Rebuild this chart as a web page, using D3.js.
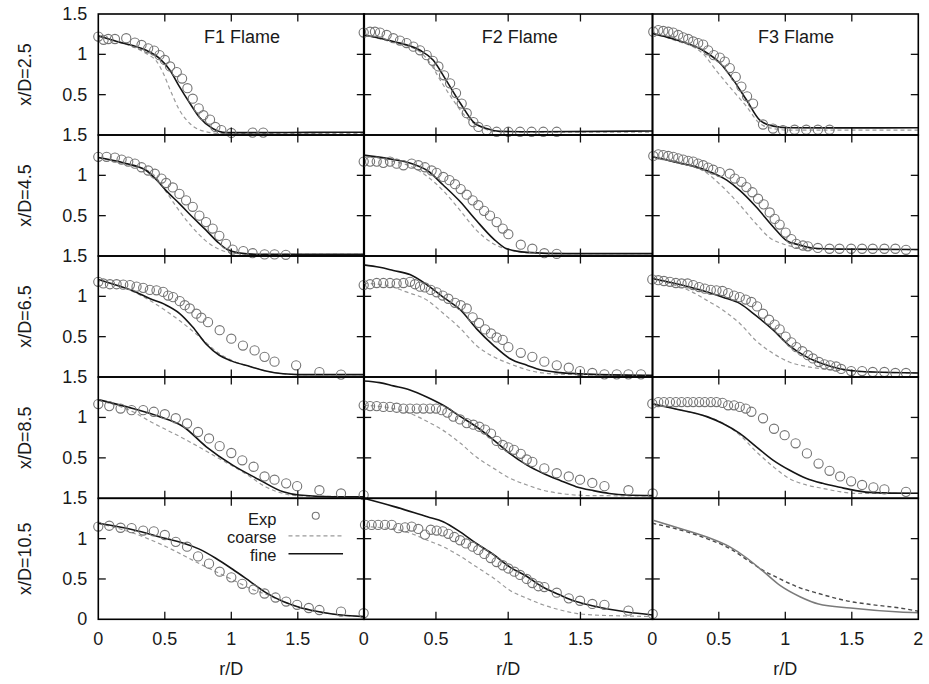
<!DOCTYPE html>
<html>
<head>
<meta charset="utf-8">
<script src="https://cdn.jsdelivr.net/npm/d3@7"></script>
<style>
  html, body { margin: 0; padding: 0; background: #fff; }
  svg text { font-family: "Liberation Sans", Arial, Helvetica, sans-serif; fill: #1a1a1a; }
</style>
</head>
<body>
<svg id="chart" width="929" height="684"></svg>
<script>
// ---- categories ----
const flames = ["F1", "F2", "F3"];
const stations = [2.5, 4.5, 6.5, 8.5, 10.5];
const xTicks = [0, 0.5, 1, 1.5, 2];
const yTicks = [0, 0.5, 1, 1.5];
const xTickLabels = ["0", "0.5", "1", "1.5", "2"];
const yTickLabels = ["0", "0.5", "1", "1.5"];
const keyNames = ["Exp", "coarse", "fine"];

// ---- F1 flame ----
const f1_25_exp = [[0,1.22],[0.04,1.18],[0.075,1.19],[0.125,1.19],[0.21,1.2],[0.275,1.145],[0.325,1.116],[0.375,1.075],[0.42,1.046],[0.46,0.99],[0.5,0.93],[0.54,0.85],[0.59,0.78],[0.63,0.7],[0.67,0.58],[0.71,0.45],[0.755,0.33],[0.79,0.245],[0.84,0.19],[0.88,0.1],[0.925,0.06],[1.0,0.025],[1.16,0.03],[1.24,0.03]];
const f1_25_fine = [[0,1.23],[0.14,1.16],[0.36,1.05],[0.46,0.95],[0.54,0.8],[0.61,0.6],[0.69,0.39],[0.76,0.22],[0.86,0.08],[0.96,0.03],[1.2,0.03],[1.6,0.032],[2,0.035]];
const f1_25_coarse = [[0,1.22],[0.2,1.13],[0.36,1.01],[0.44,0.91],[0.49,0.76],[0.54,0.56],[0.61,0.31],[0.69,0.14],[0.81,0.04],[0.91,0.02],[1.4,0.02],[2,0.02]];

const f1_45_exp = [[0,1.23],[0.0625,1.23],[0.125,1.22],[0.175,1.195],[0.225,1.17],[0.275,1.145],[0.325,1.1],[0.375,1.06],[0.425,1.02],[0.475,0.96],[0.51,0.905],[0.56,0.85],[0.61,0.77],[0.66,0.69],[0.71,0.61],[0.76,0.5],[0.81,0.42],[0.86,0.34],[0.91,0.25],[0.96,0.15],[1.01,0.08],[1.09,0.06],[1.16,0.035],[1.25,0.02],[1.325,0.02],[1.41,0.015]];
const f1_45_fine = [[0,1.22],[0.2,1.15],[0.36,1.06],[0.44,0.94],[0.51,0.81],[0.61,0.65],[0.71,0.48],[0.81,0.32],[0.9,0.17],[0.97,0.08],[1.05,0.04],[1.2,0.02],[2,0.02]];
const f1_45_coarse = [[0,1.22],[0.2,1.14],[0.4,1.03],[0.5,0.82],[0.6,0.58],[0.7,0.37],[0.8,0.2],[0.9,0.09],[1.0,0.04],[1.2,0.02],[2,0.02]];

const f1_65_exp = [[0,1.18],[0.0375,1.16],[0.0875,1.15],[0.1375,1.15],[0.1875,1.145],[0.2375,1.14],[0.2875,1.12],[0.3375,1.105],[0.3875,1.08],[0.4375,1.075],[0.4875,1.055],[0.525,1.01],[0.5625,0.99],[0.6125,0.94],[0.65,0.89],[0.6875,0.85],[0.7375,0.785],[0.775,0.735],[0.825,0.68],[0.9125,0.58],[1.0,0.475],[1.0875,0.39],[1.175,0.33],[1.25,0.25],[1.325,0.19],[1.4875,0.145],[1.6625,0.06],[1.825,0.03]];
const f1_65_fine = [[0,1.21],[0.15,1.13],[0.26,1.07],[0.39,0.97],[0.5,0.9],[0.61,0.79],[0.71,0.62],[0.81,0.41],[0.91,0.27],[1.0,0.2],[1.14,0.13],[1.26,0.075],[1.39,0.04],[1.51,0.03],[2,0.03]];
const f1_65_coarse = [[0,1.21],[0.15,1.13],[0.31,1.02],[0.5,0.83],[0.61,0.7],[0.76,0.5],[0.91,0.29],[1.01,0.2],[1.14,0.13],[1.26,0.075],[1.39,0.04],[1.51,0.03],[2,0.03]];

const f1_85_exp = [[0,1.165],[0.0825,1.14],[0.1675,1.11],[0.25,1.09],[0.3375,1.09],[0.4175,1.07],[0.5,1.04],[0.5825,0.99],[0.6675,0.925],[0.75,0.82],[0.8325,0.74],[0.9125,0.645],[1.0,0.56],[1.0825,0.47],[1.1675,0.39],[1.25,0.27],[1.325,0.23],[1.4125,0.185],[1.495,0.15],[1.6625,0.1],[1.825,0.06],[1.995,0.04]];
const f1_85_fine = [[0,1.22],[0.26,1.11],[0.46,1.01],[0.64,0.885],[0.81,0.64],[1.01,0.41],[1.21,0.23],[1.39,0.08],[1.51,0.04],[1.76,0.02],[2,0.02]];
const f1_85_coarse = [[0,1.21],[0.26,1.07],[0.39,0.95],[0.64,0.74],[0.89,0.51],[1.14,0.27],[1.26,0.14],[1.39,0.06],[1.51,0.03],[2,0.02]];

const f1_105_exp = [[0,1.15],[0.0825,1.16],[0.1675,1.135],[0.25,1.13],[0.3375,1.1],[0.4175,1.09],[0.5,1.045],[0.5825,0.96],[0.6675,0.9],[0.75,0.78],[0.8325,0.69],[0.9125,0.59],[1.0,0.52],[1.0825,0.44],[1.1675,0.37],[1.25,0.32],[1.3325,0.27],[1.4125,0.22],[1.495,0.18],[1.5825,0.14],[1.6625,0.115],[1.825,0.095],[1.995,0.075]];
const f1_105_fine = [[0,1.19],[0.26,1.11],[0.51,1.0],[0.63,0.95],[0.76,0.87],[0.88,0.76],[1.01,0.62],[1.14,0.47],[1.26,0.33],[1.39,0.22],[1.51,0.15],[1.64,0.1],[1.76,0.066],[2,0.033]];
const f1_105_coarse = [[0,1.19],[0.26,1.07],[0.51,0.9],[0.76,0.69],[1.01,0.49],[1.16,0.37],[1.26,0.31],[1.39,0.22],[1.51,0.15],[1.64,0.1],[1.76,0.066],[2,0.033]];

// ---- F2 flame ----
const f2_25_exp = [[0,1.27],[0.044,1.28],[0.078,1.28],[0.113,1.27],[0.159,1.24],[0.205,1.2],[0.251,1.17],[0.297,1.14],[0.344,1.095],[0.39,1.05],[0.436,0.99],[0.478,0.92],[0.517,0.85],[0.556,0.74],[0.598,0.64],[0.639,0.52],[0.678,0.39],[0.713,0.27],[0.759,0.16],[0.794,0.1],[0.851,0.06],[0.92,0.04],[1.001,0.04],[1.082,0.04],[1.162,0.04],[1.243,0.04],[1.336,0.04]];
const f2_25_fine = [[0,1.24],[0.205,1.16],[0.39,1.05],[0.48,0.93],[0.57,0.68],[0.67,0.39],[0.76,0.16],[0.85,0.08],[0.94,0.045],[1.2,0.04],[2,0.05]];
const f2_25_coarse = [[0,1.24],[0.2,1.15],[0.39,1.03],[0.46,0.89],[0.53,0.68],[0.62,0.43],[0.71,0.22],[0.81,0.1],[0.9,0.045],[1.2,0.035],[2,0.035]];

const f2_45_exp = [[0,1.17],[0.044,1.17],[0.09,1.17],[0.136,1.155],[0.182,1.17],[0.228,1.145],[0.275,1.125],[0.332,1.145],[0.378,1.125],[0.424,1.1],[0.47,1.06],[0.505,1.03],[0.551,0.98],[0.593,0.94],[0.632,0.89],[0.671,0.83],[0.713,0.76],[0.754,0.69],[0.793,0.63],[0.833,0.56],[0.874,0.5],[0.92,0.42],[0.962,0.34],[1.001,0.27],[1.087,0.14],[1.167,0.09],[1.25,0.035],[1.336,0.027]];
const f2_45_fine = [[0,1.25],[0.16,1.21],[0.34,1.14],[0.44,1.06],[0.55,0.88],[0.67,0.67],[0.78,0.44],[0.9,0.21],[0.99,0.09],[1.13,0.045],[1.4,0.03],[2,0.03]];
const f2_45_coarse = [[0,1.25],[0.16,1.19],[0.34,1.1],[0.55,0.81],[0.67,0.56],[0.78,0.32],[0.9,0.15],[1.0,0.08],[1.1,0.045],[1.3,0.03],[2,0.03]];

const f2_65_exp = [[0,1.14],[0.044,1.15],[0.09,1.165],[0.136,1.165],[0.182,1.165],[0.228,1.16],[0.275,1.165],[0.321,1.18],[0.355,1.15],[0.39,1.12],[0.424,1.11],[0.464,1.08],[0.505,1.05],[0.547,1.01],[0.586,0.97],[0.632,0.92],[0.671,0.89],[0.713,0.85],[0.754,0.74],[0.798,0.67],[0.84,0.59],[0.881,0.54],[0.92,0.49],[0.962,0.46],[1.001,0.37],[1.087,0.3],[1.167,0.25],[1.25,0.19],[1.336,0.145],[1.419,0.115],[1.497,0.074],[1.582,0.05],[1.666,0.033],[1.751,0.033],[1.832,0.033],[1.919,0.033]];
const f2_65_fine = [[0,1.39],[0.11,1.36],[0.205,1.32],[0.32,1.27],[0.44,1.14],[0.55,0.99],[0.67,0.83],[0.78,0.6],[0.9,0.39],[1.01,0.23],[1.13,0.145],[1.24,0.083],[1.36,0.054],[1.59,0.033],[2,0.02]];
const f2_65_coarse = [[0,1.16],[0.1,1.15],[0.2,1.12],[0.27,1.07],[0.44,0.95],[0.55,0.79],[0.67,0.6],[0.78,0.39],[0.9,0.25],[1.01,0.165],[1.13,0.09],[1.24,0.05],[1.4,0.033],[2,0.02]];

const f2_85_exp = [[0,1.15],[0.044,1.14],[0.09,1.14],[0.136,1.13],[0.182,1.13],[0.228,1.12],[0.275,1.11],[0.321,1.11],[0.367,1.11],[0.413,1.11],[0.459,1.11],[0.5,1.11],[0.54,1.09],[0.579,1.06],[0.62,1.01],[0.667,0.975],[0.713,0.93],[0.759,0.91],[0.8,0.885],[0.84,0.85],[0.881,0.8],[0.92,0.71],[0.962,0.66],[1.001,0.63],[1.04,0.6],[1.087,0.55],[1.128,0.48],[1.167,0.45],[1.25,0.37],[1.336,0.31],[1.419,0.27],[1.497,0.23],[1.582,0.19],[1.666,0.15],[1.832,0.1],[2.0,0.06]];
const f2_85_fine = [[0,1.45],[0.11,1.43],[0.205,1.39],[0.32,1.34],[0.44,1.25],[0.55,1.15],[0.67,1.01],[0.78,0.885],[0.9,0.72],[1.01,0.555],[1.13,0.41],[1.24,0.31],[1.36,0.22],[1.47,0.144],[1.59,0.095],[1.7,0.06],[1.82,0.04],[2,0.033]];
const f2_85_coarse = [[0,1.15],[0.205,1.11],[0.32,1.05],[0.44,0.95],[0.55,0.84],[0.67,0.68],[0.78,0.51],[0.9,0.37],[1.01,0.25],[1.13,0.165],[1.24,0.1],[1.36,0.06],[1.47,0.04],[1.59,0.033],[2,0.03]];

const f2_105_exp = [[0.009,1.17],[0.055,1.17],[0.1,1.17],[0.147,1.17],[0.194,1.17],[0.24,1.13],[0.286,1.14],[0.332,1.15],[0.378,1.12],[0.424,1.05],[0.464,1.11],[0.505,1.1],[0.547,1.09],[0.586,1.06],[0.627,1.02],[0.667,0.98],[0.708,0.94],[0.754,0.9],[0.793,0.86],[0.835,0.81],[0.879,0.76],[0.92,0.71],[0.962,0.67],[1.001,0.63],[1.043,0.59],[1.082,0.55],[1.128,0.5],[1.167,0.45],[1.209,0.41],[1.25,0.4],[1.336,0.33],[1.419,0.26],[1.497,0.23],[1.582,0.19],[1.666,0.18],[1.832,0.107],[2.0,0.066]];
const f2_105_fine = [[0,1.5],[0.205,1.4],[0.44,1.27],[0.55,1.21],[0.67,1.08],[0.78,0.94],[0.9,0.8],[1.01,0.65],[1.13,0.53],[1.24,0.4],[1.36,0.3],[1.47,0.22],[1.59,0.165],[1.7,0.124],[1.82,0.09],[2,0.054]];
const f2_105_coarse = [[0,1.15],[0.205,1.12],[0.32,1.07],[0.44,0.98],[0.55,0.9],[0.67,0.78],[0.78,0.65],[0.9,0.51],[1.01,0.36],[1.13,0.26],[1.24,0.18],[1.36,0.116],[1.47,0.074],[1.59,0.054],[1.82,0.041],[2,0.033]];

// ---- F3 flame ----
const f3_25_exp = [[0.0075,1.28],[0.045,1.3],[0.0825,1.29],[0.12,1.28],[0.1575,1.27],[0.195,1.24],[0.2325,1.21],[0.27,1.19],[0.3075,1.16],[0.345,1.14],[0.3825,1.12],[0.42,1.05],[0.4625,0.99],[0.5075,0.96],[0.545,0.91],[0.5825,0.83],[0.6275,0.72],[0.67,0.6],[0.7125,0.48],[0.7575,0.39],[0.8325,0.13],[0.9075,0.08],[0.9825,0.06],[1.07,0.066],[1.1575,0.066],[1.245,0.066],[1.3325,0.066]];
const f3_25_fine = [[0,1.26],[0.16,1.19],[0.38,1.05],[0.51,0.89],[0.61,0.68],[0.71,0.43],[0.81,0.18],[0.91,0.11],[1.03,0.09],[1.5,0.088],[2,0.09]];
const f3_25_coarse = [[0,1.26],[0.16,1.18],[0.38,1.01],[0.48,0.8],[0.58,0.6],[0.71,0.35],[0.81,0.14],[0.91,0.08],[1.03,0.06],[2,0.06]];

const f3_45_exp = [[0.0075,1.24],[0.045,1.26],[0.0825,1.25],[0.12,1.24],[0.1575,1.23],[0.195,1.21],[0.2325,1.195],[0.27,1.18],[0.3075,1.17],[0.345,1.145],[0.3825,1.125],[0.42,1.095],[0.4575,1.07],[0.5075,1.04],[0.5825,1.02],[0.62,0.96],[0.67,0.92],[0.7075,0.855],[0.7525,0.79],[0.795,0.71],[0.8375,0.64],[0.8825,0.54],[0.92,0.46],[0.9575,0.39],[1.0025,0.29],[1.045,0.21],[1.0825,0.15],[1.1325,0.13],[1.17,0.12],[1.245,0.1],[1.3325,0.09],[1.4075,0.09],[1.495,0.09],[1.5775,0.09],[1.6575,0.09],[1.745,0.09],[1.8275,0.09],[1.9075,0.077]];
const f3_45_fine = [[0,1.23],[0.16,1.17],[0.41,1.06],[0.56,0.94],[0.66,0.81],[0.78,0.61],[0.91,0.36],[1.01,0.19],[1.1,0.14],[1.2,0.1],[1.4,0.085],[2,0.08]];
const f3_45_coarse = [[0,1.23],[0.2,1.15],[0.38,1.06],[0.53,0.855],[0.66,0.63],[0.78,0.4],[0.88,0.23],[1.0,0.14],[1.1,0.1],[1.2,0.085],[2,0.08]];

const f3_65_exp = [[0,1.21],[0.045,1.2],[0.0875,1.19],[0.1325,1.18],[0.1775,1.165],[0.22,1.16],[0.265,1.16],[0.3075,1.14],[0.3525,1.115],[0.395,1.095],[0.44,1.08],[0.4825,1.075],[0.5275,1.066],[0.57,1.04],[0.615,1.01],[0.6575,0.99],[0.7025,0.96],[0.745,0.93],[0.7875,0.875],[0.8325,0.785],[0.8775,0.71],[0.92,0.65],[0.9575,0.59],[1.0025,0.5],[1.045,0.43],[1.0825,0.37],[1.1275,0.32],[1.17,0.27],[1.2075,0.23],[1.2525,0.186],[1.295,0.157],[1.3375,0.145],[1.3825,0.13],[1.42,0.1],[1.495,0.074],[1.5775,0.074],[1.6575,0.062],[1.745,0.062],[1.8275,0.05],[1.9075,0.05]];
const f3_65_fine = [[0,1.22],[0.28,1.115],[0.53,0.99],[0.66,0.91],[0.78,0.76],[0.91,0.58],[1.03,0.39],[1.16,0.25],[1.28,0.165],[1.41,0.103],[1.53,0.074],[1.66,0.062],[2,0.05]];
const f3_65_coarse = [[0,1.22],[0.15,1.15],[0.28,1.07],[0.41,0.95],[0.53,0.83],[0.66,0.66],[0.78,0.45],[0.91,0.29],[1.03,0.186],[1.16,0.13],[1.28,0.1],[1.41,0.083],[1.6,0.065],[2,0.05]];

const f3_85_exp = [[0,1.17],[0.045,1.19],[0.0875,1.19],[0.1325,1.19],[0.1775,1.19],[0.22,1.19],[0.265,1.19],[0.3075,1.19],[0.3525,1.19],[0.395,1.19],[0.44,1.19],[0.4825,1.19],[0.5275,1.18],[0.57,1.15],[0.615,1.15],[0.6575,1.13],[0.7025,1.11],[0.745,1.07],[0.8325,0.99],[0.915,0.86],[0.995,0.78],[1.0775,0.68],[1.1625,0.555],[1.25,0.43],[1.3325,0.34],[1.4125,0.27],[1.495,0.21],[1.5775,0.165],[1.6625,0.136],[1.745,0.11],[1.9075,0.08]];
const f3_85_fine = [[0,1.17],[0.16,1.11],[0.41,1.01],[0.53,0.925],[0.66,0.8],[0.78,0.64],[0.91,0.47],[1.03,0.35],[1.16,0.245],[1.28,0.185],[1.41,0.136],[1.53,0.095],[1.66,0.07],[2,0.062]];
const f3_85_coarse = [[0,1.17],[0.16,1.11],[0.41,1.01],[0.53,0.93],[0.66,0.78],[0.78,0.58],[0.91,0.39],[1.03,0.245],[1.16,0.165],[1.28,0.123],[1.41,0.082],[1.53,0.062],[2,0.06]];

const f3_105_exp = [];
const f3_105_fine = [[0,1.23],[0.16,1.15],[0.41,1.02],[0.58,0.9],[0.71,0.76],[0.83,0.6],[0.96,0.42],[1.11,0.28],[1.25,0.19],[1.49,0.14],[1.86,0.09],[2,0.08]];
const f3_105_coarse = [[0,1.19],[0.16,1.13],[0.41,1.0],[0.58,0.88],[0.71,0.74],[0.83,0.61],[0.96,0.5],[1.11,0.39],[1.25,0.32],[1.49,0.22],[1.66,0.18],[1.86,0.14],[2,0.1]];

// lookup table: [flame][station index] -> [exp, coarse, fine]
const panels = [
  [[f1_25_exp, f1_25_coarse, f1_25_fine], [f1_45_exp, f1_45_coarse, f1_45_fine], [f1_65_exp, f1_65_coarse, f1_65_fine], [f1_85_exp, f1_85_coarse, f1_85_fine], [f1_105_exp, f1_105_coarse, f1_105_fine]],
  [[f2_25_exp, f2_25_coarse, f2_25_fine], [f2_45_exp, f2_45_coarse, f2_45_fine], [f2_65_exp, f2_65_coarse, f2_65_fine], [f2_85_exp, f2_85_coarse, f2_85_fine], [f2_105_exp, f2_105_coarse, f2_105_fine]],
  [[f3_25_exp, f3_25_coarse, f3_25_fine], [f3_45_exp, f3_45_coarse, f3_45_fine], [f3_65_exp, f3_65_coarse, f3_65_fine], [f3_85_exp, f3_85_coarse, f3_85_fine], [f3_105_exp, f3_105_coarse, f3_105_fine]]
];

// ---- layout ----
const colEdges = [[98.3, 364.3], [363.7, 652.7], [652.3, 918.3]];
const rowEdges = [14, 135, 256, 377, 498.3, 619.3];
const tickLen = 7.5;

const styles = {
  exp:    { stroke: "#747474", width: 1.1, r: 4.6 },
  coarse: { stroke: "#9a9a9a", width: 1.2, dash: "4,3" },
  fine:   { stroke: "#151515", width: 1.6 }
};
// panel without measurements uses a lighter solid line and darker dashes
const stylesNoExp = {
  coarse: { stroke: "#4a4a4a", width: 1.4, dash: "4,3" },
  fine:   { stroke: "#7a7a7a", width: 1.5 }
};

const svg = d3.select("#chart");
svg.append("rect").attr("width", 929).attr("height", 684).attr("fill", "#fff");

flames.forEach((flame, ci) => {
  const x = d3.scaleLinear().domain([0, 2]).range(colEdges[ci]);
  stations.forEach((st, ri) => {
    const y = d3.scaleLinear().domain([0, 1.5]).range([rowEdges[ri + 1], rowEdges[ri]]);
    const [expData, coarseData, fineData] = panels[ci][ri];
    const st2 = expData.length ? styles : stylesNoExp;
    const g = svg.append("g");

    const line = d3.line().x(d => x(d[0])).y(d => y(d[1])).curve(d3.curveMonotoneX);

    g.append("path").datum(coarseData).attr("d", line)
      .attr("fill", "none").attr("stroke", st2.coarse.stroke)
      .attr("stroke-width", st2.coarse.width).attr("stroke-dasharray", st2.coarse.dash);
    g.append("path").datum(fineData).attr("d", line)
      .attr("fill", "none").attr("stroke", st2.fine.stroke)
      .attr("stroke-width", st2.fine.width);

    g.selectAll("circle").data(expData).join("circle")
      .attr("cx", d => x(d[0])).attr("cy", d => y(d[1])).attr("r", styles.exp.r)
      .attr("fill", "none").attr("stroke", styles.exp.stroke).attr("stroke-width", styles.exp.width);

    // inward ticks on all four sides
    const tk = g.append("g").attr("stroke", "#111").attr("stroke-width", 1.3);
    xTicks.slice(1, -1).forEach(t => {
      tk.append("line").attr("x1", x(t)).attr("x2", x(t)).attr("y1", y(0)).attr("y2", y(0) - tickLen);
      tk.append("line").attr("x1", x(t)).attr("x2", x(t)).attr("y1", y(1.5)).attr("y2", y(1.5) + tickLen);
    });
    yTicks.slice(1, -1).forEach(t => {
      tk.append("line").attr("x1", x(0)).attr("x2", x(0) + tickLen).attr("y1", y(t)).attr("y2", y(t));
      tk.append("line").attr("x1", x(2)).attr("x2", x(2) - tickLen).attr("y1", y(t)).attr("y2", y(t));
    });

    // frame
    g.append("rect").attr("x", x(0)).attr("y", y(1.5))
      .attr("width", x(2) - x(0)).attr("height", y(0) - y(1.5))
      .attr("fill", "none").attr("stroke", "#000").attr("stroke-width", 1.6);

    // y tick labels on the left column
    if (ci === 0) {
      yTicks.forEach((t, i) => {
        if (t === 0 && ri < stations.length - 1) return;
        svg.append("text").attr("x", x(0) - 11).attr("y", y(t))
          .attr("text-anchor", "end").attr("dominant-baseline", "central")
          .attr("font-size", 18).text(yTickLabels[i]);
      });
      svg.append("text")
        .attr("transform", `translate(31,${(y(0) + y(1.5)) / 2}) rotate(-90)`)
        .attr("text-anchor", "middle").attr("font-size", 18)
        .text(`x/D=${st}`);
    }

    // x tick labels on the bottom row
    if (ri === stations.length - 1) {
      xTicks.forEach((t, i) => {
        if (t === 2 && ci < flames.length - 1) return;
        svg.append("text").attr("x", x(t)).attr("y", 645)
          .attr("text-anchor", "middle").attr("font-size", 18).text(xTickLabels[i]);
      });
      svg.append("text").attr("x", x(1)).attr("y", 675)
        .attr("text-anchor", "middle").attr("font-size", 18).text("r/D");
    }

    // flame title on the top row
    if (ri === 0) {
      svg.append("text").attr("x", x(1.08)).attr("y", y(1.5) + 29)
        .attr("text-anchor", "middle").attr("font-size", 18).text(`${flame} Flame`);
    }

    // key inside the F1, x/D=10.5 panel
    if (ci === 0 && ri === stations.length - 1) {
      const kx = x(1.34), sx1 = x(1.43), sx2 = x(1.84);
      const base = y(1.5) + 26.5;
      keyNames.forEach((name, i) => {
        const by = base + i * 18;
        svg.append("text").attr("x", kx).attr("y", by)
          .attr("text-anchor", "end").attr("font-size", 16.5).text(name);
        const cy = by - 7;
        if (name === "Exp") {
          svg.append("circle").attr("cx", (sx1 + sx2) / 2).attr("cy", cy - 2).attr("r", 3.5)
            .attr("fill", "none").attr("stroke", styles.exp.stroke).attr("stroke-width", styles.exp.width);
        } else {
          const s = styles[name];
          svg.append("line").attr("x1", sx1).attr("x2", sx2).attr("y1", cy).attr("y2", cy)
            .attr("stroke", s.stroke).attr("stroke-width", s.width)
            .attr("stroke-dasharray", s.dash || null);
        }
      });
    }
  });
});
</script>
</body>
</html>
